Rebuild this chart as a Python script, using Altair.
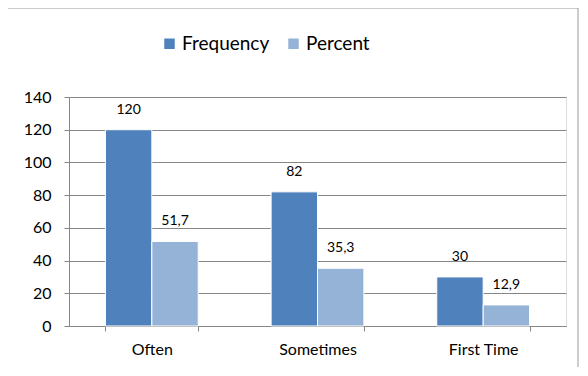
import altair as alt
import pandas as pd

categories = ["Often", "Sometimes", "First Time"]
series = ["Frequency", "Percent"]
frequency = [120, 82, 30]
percent = [51.7, 35.3, 12.9]
y_ticks = [0, 20, 40, 60, 80, 100, 120, 140]

rows = []
for c, f, p in zip(categories, frequency, percent):
    rows.append({"cat": c, "series": "Frequency", "value": f, "label": str(f)})
    rows.append({"cat": c, "series": "Percent", "value": p, "label": str(p).replace(".", ",")})
df = pd.DataFrame(rows)

FONT = "Lato"
colors = ["#4F81BD", "#95B3D7"]

x_enc = alt.X("cat:N", sort=categories, title=None,
              scale=alt.Scale(paddingInner=0.44, paddingOuter=0.22),
              axis=alt.Axis(labelAngle=0, labelFont=FONT, labelFontSize=16, labelColor="#000",
                            tickBand="extent", tickSize=5, tickColor="#868686",
                            domainColor="#868686", labelPadding=10, grid=False))
y_enc = alt.Y("value:Q", title=None,
              scale=alt.Scale(domain=[0, 140], nice=False),
              axis=alt.Axis(values=y_ticks, tickCount=8, labelFont=FONT, labelFontSize=16,
                            labelColor="#000", labelOverlap=False, labelFlush=False,
                            tickSize=5, tickColor="#868686", domainColor="#868686",
                            gridColor="#868686", gridWidth=1, labelPadding=13))
xo_enc = alt.XOffset("series:N", sort=series, scale=alt.Scale(paddingInner=0))

base = alt.Chart(df)

bars = base.mark_bar(stroke="white", strokeWidth=1).encode(
    x=x_enc,
    xOffset=xo_enc,
    y=y_enc,
    color=alt.Color("series:N", sort=series,
                    scale=alt.Scale(domain=series, range=colors),
                    legend=alt.Legend(title=None, orient="none", direction="horizontal",
                                      legendX=91, legendY=-63, labelFont=FONT, labelFontSize=19,
                                      labelColor="#000", symbolType="square", symbolSize=110,
                                      symbolStrokeWidth=0, columnPadding=14, labelOffset=3)),
)

labels = base.mark_text(baseline="bottom", dy=-13, font=FONT, fontSize=14, color="#000").encode(
    x=x_enc,
    xOffset=xo_enc,
    y=y_enc,
    text="label:N",
)

frame = alt.Chart(pd.DataFrame({"a": [0]})).mark_rect(
    fillOpacity=0, stroke="#9a9a9a", strokeWidth=1
).encode(x=alt.value(-62), x2=alt.value(509), y=alt.value(-89), y2=alt.value(60 + 229))

chart = alt.layer(bars, labels, frame).properties(
    width=497, height=229,
    autosize=alt.AutoSizeParams(type="none"),
    padding={"left": 61, "top": 89, "right": 13, "bottom": 41},
).configure_view(stroke=None).configure(background="white")

chart.save("out.html", embed_options={"renderer": "svg", "actions": False})
